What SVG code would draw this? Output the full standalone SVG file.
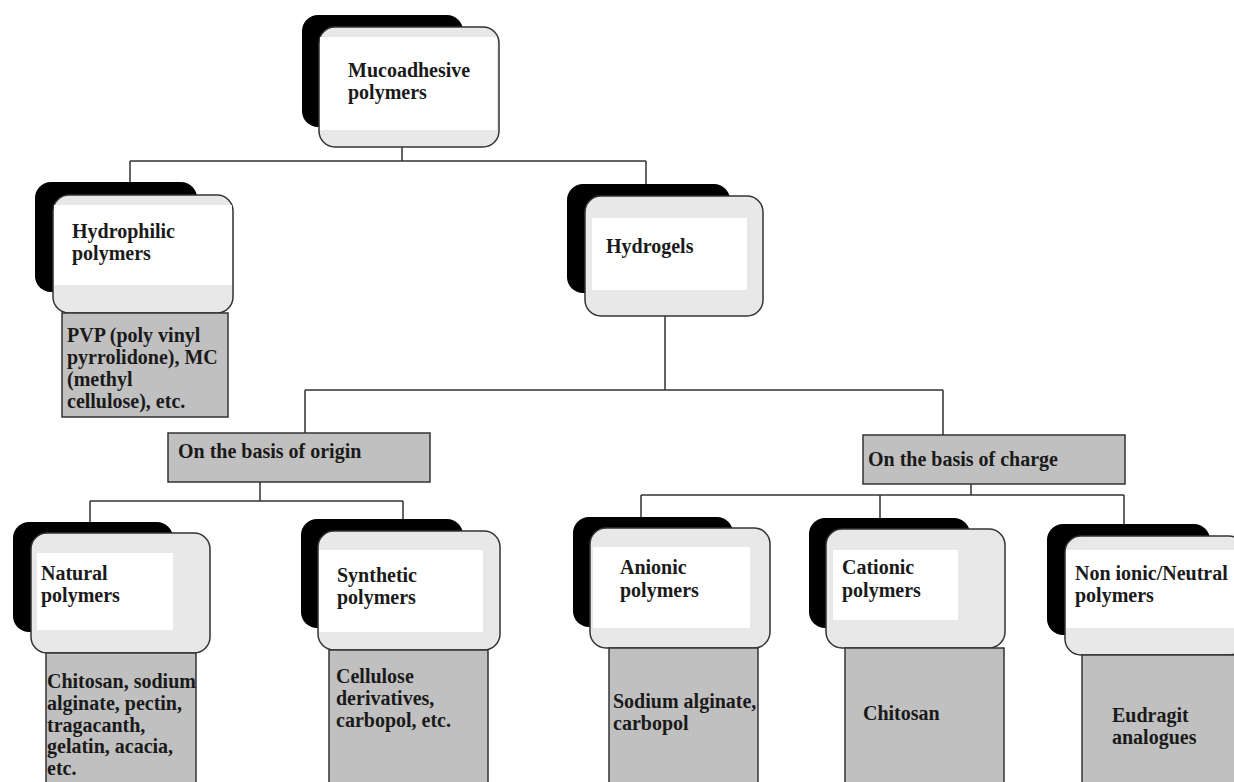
<svg xmlns="http://www.w3.org/2000/svg" width="1234" height="782" viewBox="0 0 1234 782">
<style>
.sh{fill:#000}
.fr{fill:#e8e8e8;stroke:#333;stroke-width:1.5}
.in{fill:#fff}
.gb{fill:#c0c0c0;stroke:#333;stroke-width:1.5}
.t{font-family:"Liberation Serif","Times New Roman",serif;font-weight:bold;font-size:20px;fill:#1a1a1a}
.c{fill:none;stroke:#333;stroke-width:1.5}
</style>
<rect width="1234" height="782" fill="#fff"/>
<g id="connectors" class="c">
<path d="M402,147V161M130,161H646M130,161V182M646,161V184"/>
<path d="M665,316V390M305,390H943M305,390V433M943,390V435"/>
<path d="M260,482V501M90,501H403M90,501V522M403,501V519"/>
<path d="M971,484V495M641,495H1124M641,495V517M880,495V518M1124,495V524"/>
</g>
<g id="mucoadhesive">
<rect class="sh" x="302" y="15" width="161" height="112" rx="16"/>
<rect class="fr" x="319" y="27" width="180" height="120" rx="16"/>
<rect class="in" x="320" y="37" width="177" height="93"/>
<text class="t" x="348" y="77">Mucoadhesive</text>
<text class="t" x="348" y="99">polymers</text>
</g>
<g id="hydrophilic">
<rect class="sh" x="35" y="182" width="162" height="110" rx="16"/>
<rect class="fr" x="53" y="195" width="180" height="118" rx="16"/>
<rect class="in" x="54" y="205" width="178" height="80"/>
<text class="t" x="72" y="238">Hydrophilic</text>
<text class="t" x="72" y="260">polymers</text>
</g>
<g id="hydrophilic-examples">
<rect class="gb" x="62" y="313" width="166" height="104"/>
<text class="t" x="67" y="342">PVP (poly vinyl</text>
<text class="t" x="67" y="364">pyrrolidone), MC</text>
<text class="t" x="67" y="386">(methyl</text>
<text class="t" x="67" y="408">cellulose), etc.</text>
</g>
<g id="hydrogels">
<rect class="sh" x="567" y="184" width="163" height="109" rx="16"/>
<rect class="fr" x="585" y="196" width="178" height="120" rx="16"/>
<rect class="in" x="592" y="218" width="155" height="72"/>
<text class="t" x="606" y="253">Hydrogels</text>
</g>
<g id="origin">
<rect class="gb" x="168" y="433" width="262" height="49"/>
<text class="t" x="178" y="458">On the basis of origin</text>
</g>
<g id="charge">
<rect class="gb" x="863" y="435" width="262" height="49"/>
<text class="t" x="868" y="466">On the basis of charge</text>
</g>
<g id="natural">
<rect class="sh" x="13" y="522" width="160" height="110" rx="16"/>
<rect class="fr" x="31" y="533" width="179" height="120" rx="16"/>
<rect class="in" x="37" y="553" width="136" height="77"/>
<text class="t" x="41" y="580">Natural</text>
<text class="t" x="41" y="602">polymers</text>
</g>
<g id="natural-examples">
<rect class="gb" x="46" y="653" width="150" height="140"/>
<text class="t" x="47" y="688">Chitosan, sodium</text>
<text class="t" x="47" y="710">alginate, pectin,</text>
<text class="t" x="47" y="732">tragacanth,</text>
<text class="t" x="47" y="753">gelatin, acacia,</text>
<text class="t" x="47" y="775">etc.</text>
</g>
<g id="synthetic">
<rect class="sh" x="301" y="519" width="162" height="109" rx="16"/>
<rect class="fr" x="318" y="531" width="182" height="119" rx="16"/>
<rect class="in" x="319" y="550" width="164" height="82"/>
<text class="t" x="337" y="582">Synthetic</text>
<text class="t" x="337" y="604">polymers</text>
</g>
<g id="synthetic-examples">
<rect class="gb" x="329" y="650" width="159" height="143"/>
<text class="t" x="336" y="683">Cellulose</text>
<text class="t" x="336" y="705">derivatives,</text>
<text class="t" x="336" y="727">carbopol, etc.</text>
</g>
<g id="anionic">
<rect class="sh" x="573" y="517" width="160" height="110" rx="16"/>
<rect class="fr" x="590" y="528" width="180" height="120" rx="16"/>
<rect class="in" x="593" y="547" width="157" height="81"/>
<text class="t" x="620" y="574">Anionic</text>
<text class="t" x="620" y="597">polymers</text>
</g>
<g id="anionic-examples">
<rect class="gb" x="609" y="648" width="149" height="145"/>
<text class="t" x="613" y="708">Sodium alginate,</text>
<text class="t" x="613" y="730">carbopol</text>
</g>
<g id="cationic">
<rect class="sh" x="809" y="518" width="161" height="110" rx="16"/>
<rect class="fr" x="826" y="529" width="179" height="119" rx="16"/>
<rect class="in" x="833" y="550" width="125" height="70"/>
<text class="t" x="842" y="574">Cationic</text>
<text class="t" x="842" y="597">polymers</text>
</g>
<g id="cationic-examples">
<rect class="gb" x="845" y="648" width="159" height="145"/>
<text class="t" x="863" y="720">Chitosan</text>
</g>
<g id="nonionic">
<rect class="sh" x="1047" y="524" width="163" height="111" rx="16"/>
<rect class="fr" x="1065" y="536" width="180" height="119" rx="16"/>
<rect class="in" x="1066" y="550" width="170" height="78"/>
<text class="t" x="1075" y="580">Non ionic/Neutral</text>
<text class="t" x="1075" y="602">polymers</text>
</g>
<g id="nonionic-examples">
<rect class="gb" x="1082" y="655" width="160" height="138"/>
<text class="t" x="1112" y="722">Eudragit</text>
<text class="t" x="1112" y="744">analogues</text>
</g>
</svg>
